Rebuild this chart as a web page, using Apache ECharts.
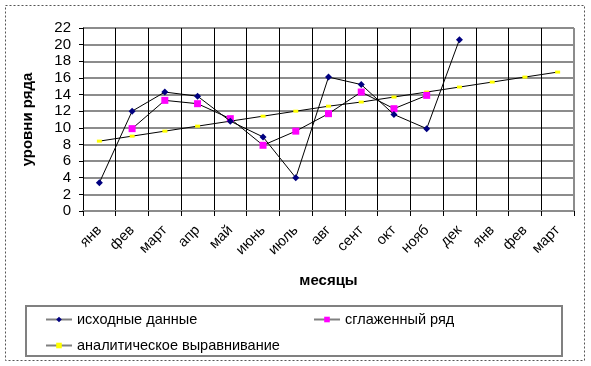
<!DOCTYPE html>
<html>
<head>
<meta charset="utf-8">
<script src="https://cdn.jsdelivr.net/npm/echarts@6/dist/echarts.min.js"></script>
<style>html,body{margin:0;padding:0;background:#fff}#c{width:591px;height:366px}</style>
</head>
<body>
<div id="c"></div>
<script>
const categories = ['янв','фев','март','апр','май','июнь','июль','авг','сент','окт','нояб','дек','янв','фев','март'];
const original = [3.4, 12.0, 14.3, 13.8, 10.8, 8.9, 4.0, 16.1, 15.2, 11.6, 9.9, 20.6, null, null, null];
const smoothed = [null, 9.9, 13.3, 12.9, 11.1, 7.9, 9.6, 11.7, 14.3, 12.3, 13.9, null, null, null, null];
const trend = [8.4, 9.0, 9.6, 10.2, 10.8, 11.4, 12.0, 12.6, 13.1, 13.7, 14.3, 14.9, 15.5, 16.1, 16.7];
const yTicks = {min: 0, max: 22, interval: 2};
const names = ['исходные данные', 'сглаженный ряд', 'аналитическое выравнивание'];

const font = 'Liberation Sans, Arial, sans-serif';
const chart = echarts.init(document.getElementById('c'), null, {renderer: 'canvas'});
const legendBase = {
  orient: 'horizontal', itemWidth: 26, itemHeight: 7, itemGap: 10,
  textStyle: {fontFamily: font, fontSize: 14.5, color: '#000'},
  lineStyle: {color: '#808080', width: 2}, padding: 0
};
chart.setOption({
  animation: false,
  backgroundColor: '#fff',
  grid: {left: 83, right: 17, top: 28, bottom: 155, containLabel: false},
  graphic: [
    {type: 'rect', shape: {x: 5.5, y: 5.5, width: 579, height: 355}, style: {fill: 'none', stroke: '#555', lineWidth: 1, lineDash: [2, 2]}, z: -1},
    {type: 'rect', shape: {x: 26, y: 306, width: 536, height: 50}, style: {fill: '#fff', stroke: '#808080', lineWidth: 2}, z: 0},
    {type: 'line', shape: {x1: 574, y1: 28, x2: 574, y2: 211}, style: {stroke: '#8c8c8c', lineWidth: 2}, z: 5}
  ],
  legend: [
    Object.assign({}, legendBase, {left: 45, top: 312, data: [names[0]]}),
    Object.assign({}, legendBase, {left: 313, top: 312, data: [names[1]]}),
    Object.assign({}, legendBase, {left: 45, top: 338, data: [names[2]]})
  ],
  xAxis: {
    type: 'category', data: categories, boundaryGap: true,
    name: 'месяцы', nameLocation: 'middle', nameGap: 62,
    nameTextStyle: {fontFamily: font, fontSize: 15, fontWeight: 'bold', color: '#000'},
    axisLine: {lineStyle: {color: '#8c8c8c', width: 2}},
    axisTick: {show: true, interval: 0, length: 5, lineStyle: {color: '#000'}},
    axisLabel: {interval: 0, rotate: 45, margin: 17, fontFamily: font, fontSize: 14.5, color: '#000'},
    splitLine: {show: true, interval: 0, lineStyle: {color: '#000', width: 1}}
  },
  yAxis: {
    type: 'value', min: yTicks.min, max: yTicks.max, interval: yTicks.interval,
    name: 'уровни ряда', nameLocation: 'middle', nameGap: 48, nameRotate: 90,
    nameTextStyle: {fontFamily: font, fontSize: 15, fontWeight: 'bold', color: '#000'},
    axisLine: {show: true, lineStyle: {color: '#000', width: 1}},
    axisTick: {show: true, length: 4, lineStyle: {color: '#000'}},
    axisLabel: {margin: 12, fontFamily: font, fontSize: 15, color: '#000'},
    splitLine: {show: true, lineStyle: {color: '#8c8c8c', width: 2}}
  },
  series: [
    {name: names[0], type: 'line', data: original, symbol: 'diamond', symbolSize: 7, showAllSymbol: true,
     lineStyle: {color: '#000', width: 1}, itemStyle: {color: '#000080'}, z: 4},
    {name: names[1], type: 'line', data: smoothed, symbol: 'rect', symbolSize: 7, showAllSymbol: true,
     lineStyle: {color: '#000', width: 1}, itemStyle: {color: '#FF00FF'}, z: 3},
    {name: names[2], type: 'line', data: trend, symbol: 'rect', symbolSize: [5, 3], showAllSymbol: true,
     lineStyle: {color: '#000', width: 1}, itemStyle: {color: '#FFFF00'}, z: 2}
  ]
});
</script>
</body>
</html>
